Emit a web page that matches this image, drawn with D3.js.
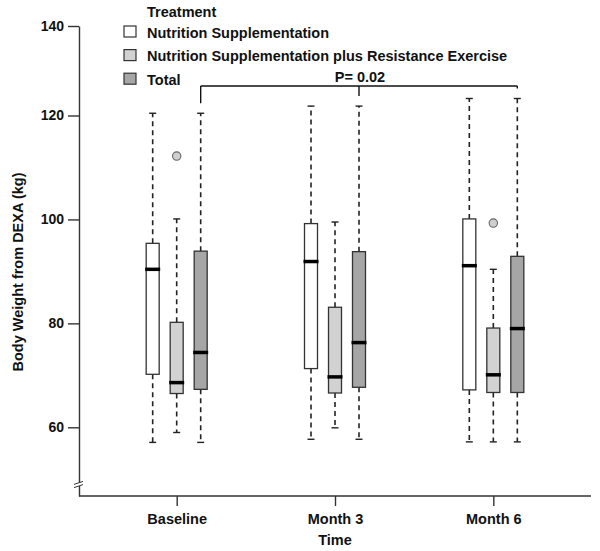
<!DOCTYPE html>
<html>
<head>
<meta charset="utf-8">
<script src="https://d3js.org/d3.v7.min.js"></script>
<style>
  html, body { margin: 0; padding: 0; background: #fff; }
  svg { display: block; }
  text { font-family: "Liberation Sans", Arial, sans-serif; font-weight: bold; fill: #111; }
</style>
</head>
<body>
<svg id="chart" width="600" height="551"></svg>
<script>
// ---------------- data ----------------
const times = ["Baseline", "Month 3", "Month 6"];
const treatments = [
  "Nutrition Supplementation",
  "Nutrition Supplementation plus Resistance Exercise",
  "Total"
];
const yTicks = [60, 80, 100, 120, 140];

// Nutrition Supplementation
const nsLow  = [57.1, 57.7, 57.2];
const nsQ1   = [70.2, 71.3, 67.2];
const nsMed  = [90.4, 91.9, 91.1];
const nsQ3   = [95.4, 99.2, 100.1];
const nsHigh = [120.5, 122.1, 123.8];
const nsOut  = [[], [], []];

// Nutrition Supplementation plus Resistance Exercise
const nsreLow  = [59.0, 59.9, 57.2];
const nsreQ1   = [66.5, 66.6, 66.7];
const nsreMed  = [68.6, 69.7, 70.1];
const nsreQ3   = [80.2, 83.1, 79.1];
const nsreHigh = [100.1, 99.5, 90.4];
const nsreOut  = [[112.2], [], [99.3]];

// Total
const totLow  = [57.1, 57.7, 57.2];
const totQ1   = [67.3, 67.7, 66.7];
const totMed  = [74.4, 76.3, 79.0];
const totQ3   = [93.9, 93.8, 92.9];
const totHigh = [120.5, 122.1, 123.8];
const totOut  = [[], [], []];

const pLabel = "P= 0.02";
const legendTitle = "Treatment";
const xTitle = "Time";
const yTitle = "Body Weight from DEXA (kg)";

// ---------------- build table ----------------
const seriesArrays = [
  [nsLow, nsQ1, nsMed, nsQ3, nsHigh, nsOut],
  [nsreLow, nsreQ1, nsreMed, nsreQ3, nsreHigh, nsreOut],
  [totLow, totQ1, totMed, totQ3, totHigh, totOut]
];
const fills = ["#ffffff", "#d2d2d2", "#a6a6a6"];
const boxes = [];
treatments.forEach((t, si) => {
  const [lo, q1, md, q3, hi, out] = seriesArrays[si];
  times.forEach((tm, ti) => {
    boxes.push({ time: tm, treat: t, si, lo: lo[ti], q1: q1[ti], med: md[ti], q3: q3[ti], hi: hi[ti], out: out[ti] });
  });
});

// ---------------- scales ----------------
const svg = d3.select("#chart");
const xAxisY = 496, axisX = 79, axisRight = 591;
const FONT = '"Liberation Sans", Arial, sans-serif';

const y = d3.scaleLinear()
  .domain([46.8, 60, 120, 140])
  .range([xAxisY, 427.3, 115.5, 26]);

const x = d3.scalePoint().domain(times).range([axisX, axisRight]).padding(0.617);
const inner = d3.scaleBand().domain(treatments).range([-36, 36]);
const boxW = 13;
const cx = d => x(d.time) + inner(d.treat) + inner.bandwidth() / 2;

// ---------------- axes ----------------
const yAxis = svg.append("g")
  .attr("transform", `translate(${axisX},0)`)
  .call(d3.axisLeft(y).tickValues(yTicks).tickSize(11).tickSizeOuter(0).tickPadding(4));
yAxis.selectAll("path, line").attr("stroke", "#333").attr("stroke-width", 1.4);
yAxis.selectAll("text").attr("font-size", 14).attr("fill", "#111")
  .style("font-family", FONT).style("font-weight", "bold");

const xAxis = svg.append("g")
  .attr("transform", `translate(0,${xAxisY})`)
  .call(d3.axisBottom(x).tickSize(10).tickSizeOuter(0).tickPadding(8));
xAxis.select(".domain").remove();
xAxis.append("line").attr("x1", axisX).attr("x2", axisRight).attr("y1", 0).attr("y2", 0)
  .attr("stroke", "#333").attr("stroke-width", 1.4);
xAxis.selectAll("line").attr("stroke", "#333").attr("stroke-width", 1.4);
xAxis.selectAll("text").attr("font-size", 14.5).attr("fill", "#111")
  .style("font-family", FONT).style("font-weight", "bold");

// axis break mark
const brY = 484.5;
svg.append("rect").attr("x", axisX - 3).attr("y", brY - 1.5).attr("width", 6).attr("height", 3).attr("fill", "#fff");
[-1.6, 1.6].forEach(o => {
  svg.append("line").attr("x1", axisX - 5).attr("x2", axisX + 4)
    .attr("y1", brY + o + 1.5).attr("y2", brY + o - 1.5)
    .attr("stroke", "#333").attr("stroke-width", 1);
});

// axis titles
svg.append("text").attr("x", 335).attr("y", 545).attr("text-anchor", "middle")
  .attr("font-size", 14.5).text(xTitle);
svg.append("text").attr("transform", "translate(23,272) rotate(-90)")
  .attr("text-anchor", "middle").attr("font-size", 14.5).text(yTitle);

// ---------------- boxes ----------------
const g = svg.append("g");
const bx = g.selectAll("g.box").data(boxes).join("g").attr("class", "box");

// whiskers
bx.append("line").attr("x1", cx).attr("x2", cx)
  .attr("y1", d => y(d.q3)).attr("y2", d => y(d.hi))
  .attr("stroke", "#222").attr("stroke-width", 1.6).attr("stroke-dasharray", "5,4");
bx.append("line").attr("x1", cx).attr("x2", cx)
  .attr("y1", d => y(d.q1)).attr("y2", d => y(d.lo))
  .attr("stroke", "#222").attr("stroke-width", 1.6).attr("stroke-dasharray", "5,4");
// caps
bx.append("line").attr("x1", d => cx(d) - 3.5).attr("x2", d => cx(d) + 3.5)
  .attr("y1", d => y(d.hi)).attr("y2", d => y(d.hi)).attr("stroke", "#222").attr("stroke-width", 1.4);
bx.append("line").attr("x1", d => cx(d) - 3.5).attr("x2", d => cx(d) + 3.5)
  .attr("y1", d => y(d.lo)).attr("y2", d => y(d.lo)).attr("stroke", "#222").attr("stroke-width", 1.4);
// box
bx.append("rect")
  .attr("x", d => cx(d) - boxW / 2).attr("width", boxW)
  .attr("y", d => y(d.q3)).attr("height", d => y(d.q1) - y(d.q3))
  .attr("fill", d => fills[d.si]).attr("stroke", "#333").attr("stroke-width", 1.3);
// median
bx.append("line").attr("x1", d => cx(d) - boxW / 2 - 1).attr("x2", d => cx(d) + boxW / 2 + 1)
  .attr("y1", d => y(d.med)).attr("y2", d => y(d.med))
  .attr("stroke", "#000").attr("stroke-width", 3.5);
// outliers
bx.selectAll("circle").data(d => d.out.map(v => ({ v, d }))).join("circle")
  .attr("cx", o => cx(o.d)).attr("cy", o => y(o.v)).attr("r", 4.2)
  .attr("fill", "#cfcfcf").attr("stroke", "#666").attr("stroke-width", 1.1);

// ---------------- significance bracket ----------------
const totBoxes = boxes.filter(b => b.si === 2);
const brkY = 86;
const pts = totBoxes.map(b => ({ x: cx(b), yEnd: y(b.hi) - 10 }));
svg.append("line").attr("x1", pts[0].x).attr("x2", pts[pts.length - 1].x)
  .attr("y1", brkY).attr("y2", brkY).attr("stroke", "#111").attr("stroke-width", 1.4);
pts.forEach(p => {
  svg.append("line").attr("x1", p.x).attr("x2", p.x).attr("y1", brkY).attr("y2", p.yEnd)
    .attr("stroke", "#111").attr("stroke-width", 1.4);
});
svg.append("text").attr("x", pts[1].x + 1).attr("y", 82).attr("text-anchor", "middle")
  .attr("font-size", 14.5).text(pLabel);

// ---------------- legend ----------------
const leg = svg.append("g");
leg.append("text").attr("x", 147).attr("y", 17).attr("font-size", 14.5).text(legendTitle);
const legRows = leg.selectAll("g.row").data(treatments).join("g").attr("class", "row")
  .attr("transform", (d, i) => `translate(124,${32 + i * 23.6})`);
legRows.append("rect").attr("x", 0).attr("y", -6).attr("width", 12).attr("height", 11)
  .attr("fill", (d, i) => fills[i]).attr("stroke", "#333").attr("stroke-width", 1.2);
legRows.append("text").attr("x", 23).attr("y", 5.5).attr("font-size", 14.5).text(d => d);
</script>
</body>
</html>
